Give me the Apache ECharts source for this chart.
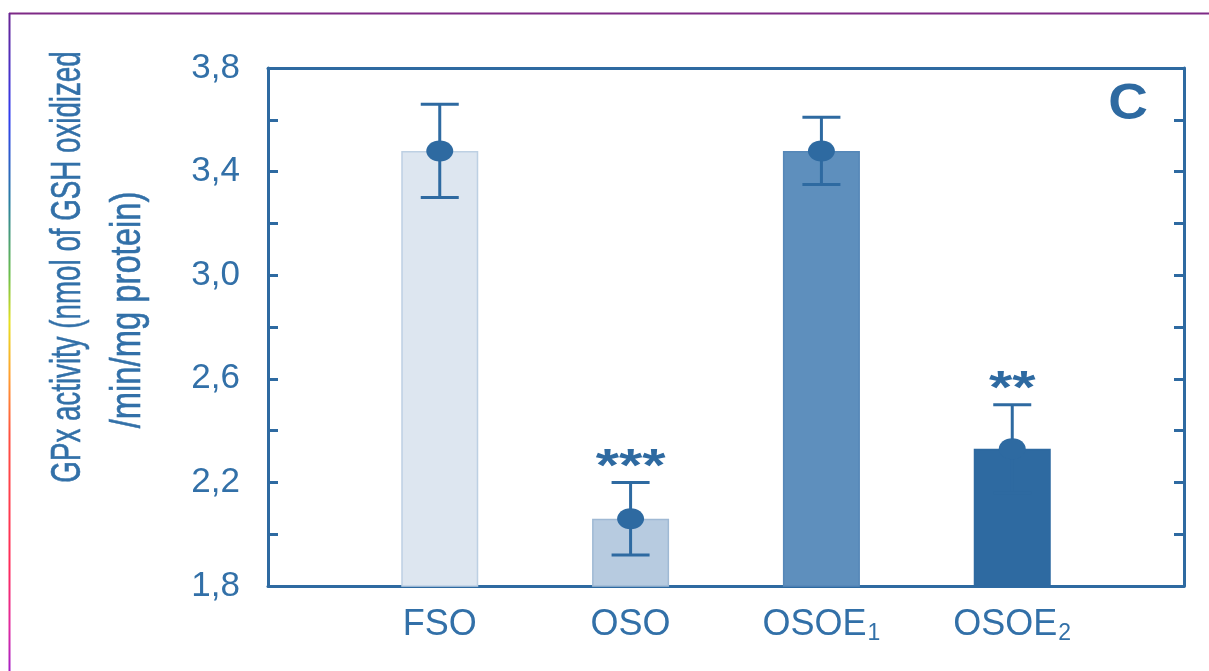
<!DOCTYPE html>
<html>
<head>
<meta charset="utf-8">
<title>GPx activity</title>
<script src="https://cdn.jsdelivr.net/npm/echarts@6/dist/echarts.min.js"></script>
<style>
  html, body { margin: 0; padding: 0; background: #ffffff; }
  #chart { width: 1209px; height: 671px; }
</style>
</head>
<body>
<div id="chart"></div>
<script>
// Group names (with subscript index where a group has one)
const categoryNames = ['FSO', 'OSO', 'OSOE', 'OSOE'];
const categorySubs = ['', '', '1', '2'];
// Positions of the groups along the x axis
const categoryPos = [1, 2, 3, 4];
// GPx activity means and error half-widths
const means = [3.48, 2.06, 3.48, 2.33];
const errors = [0.18, 0.14, 0.13, 0.17];
// Significance marks above the error bars
const significance = ['', '***', '', '**'];
// Y-axis range and tick step
const yMin = 1.8, yMax = 3.8, yStep = 0.4;

const BLUE = '#2e6aa1';
const TEXT = '#3270a8';
const barFills = ['#dde6f0', '#b7cbe0', '#5e8fbd', '#2e6aa1'];
const barBorders = ['#bdd0e3', '#9fb9d4', '#5587b8', '#2e6aa1'];

const chart = echarts.init(document.getElementById('chart'), null, { renderer: 'canvas' });

const xRange = { min: 0.1, max: 4.9 };

const option = {
  backgroundColor: '#ffffff',
  animation: false,
  grid: { left: 268, right: 25, top: 68, bottom: 85, containLabel: false, outerBoundsMode: 'none' },
  xAxis: [
    {
      type: 'value', position: 'bottom', min: xRange.min, max: xRange.max,
      axisLine: { show: true, lineStyle: { color: BLUE, width: 3 } },
      axisTick: { show: false },
      splitLine: { show: false },
      axisLabel: {
        show: true,
        customValues: categoryPos,
        margin: 18,
        formatter: function (v) {
          const i = categoryPos.indexOf(Math.round(v));
          if (i < 0) return '';
          return categorySubs[i]
            ? '{base|' + categoryNames[i] + '}{sub|' + categorySubs[i] + '}'
            : '{base|' + categoryNames[i] + '}';
        },
        rich: {
          base: { fontSize: 36, lineHeight: 42, color: TEXT, fontFamily: 'Liberation Sans', verticalAlign: 'middle' },
          sub: { fontSize: 23, lineHeight: 23, color: TEXT, fontFamily: 'Liberation Sans', padding: [18, 0, 0, 1], verticalAlign: 'middle' }
        }
      }
    },
    {
      type: 'value', position: 'top', min: xRange.min, max: xRange.max,
      axisLine: { show: true, lineStyle: { color: BLUE, width: 3 } },
      axisTick: { show: false }, axisLabel: { show: false }, splitLine: { show: false }
    }
  ],
  yAxis: [
    {
      type: 'value', position: 'left', min: yMin, max: yMax, interval: yStep,
      axisLine: { show: true, lineStyle: { color: BLUE, width: 3 } },
      axisTick: { show: true, inside: true, length: 10, lineStyle: { color: BLUE, width: 3 } },
      minorTick: { show: true, splitNumber: 2, length: 10, lineStyle: { color: BLUE, width: 3 } },
      splitLine: { show: false },
      axisLabel: {
        margin: 28, fontSize: 35, color: TEXT, fontFamily: 'Liberation Sans',
        formatter: function (v) { return v.toFixed(1).replace('.', ','); }
      }
    },
    {
      type: 'value', position: 'right', min: yMin, max: yMax, interval: yStep,
      axisLine: { show: true, lineStyle: { color: BLUE, width: 3 } },
      axisTick: { show: true, inside: true, length: 10, lineStyle: { color: BLUE, width: 3 } },
      minorTick: { show: true, splitNumber: 2, length: 10, lineStyle: { color: BLUE, width: 3 } },
      splitLine: { show: false },
      axisLabel: { show: false }
    }
  ],
  series: [
    {
      type: 'bar',
      xAxisIndex: 0, yAxisIndex: 0,
      barWidth: 77,
      z: 2,
      data: means.map(function (m, i) {
        return {
          value: [categoryPos[i], m],
          itemStyle: { color: barFills[i], borderColor: barBorders[i], borderWidth: 1.5 }
        };
      })
    },
    {
      type: 'custom',
      xAxisIndex: 0, yAxisIndex: 0,
      z: 5,
      encode: { x: 0, y: 1 },
      data: means.map(function (m, i) { return [categoryPos[i], m, errors[i]]; }),
      renderItem: function (params, api) {
        const i = params.dataIndex;
        const x = api.value(0), m = api.value(1), e = api.value(2);
        const hi = api.coord([x, m + e]);
        const lo = api.coord([x, m - e]);
        const mid = api.coord([x, m]);
        const capHalf = 19;
        const ls = { stroke: BLUE, lineWidth: 3 };
        const children = [
          { type: 'line', shape: { x1: hi[0], y1: hi[1], x2: lo[0], y2: lo[1] }, style: ls },
          { type: 'line', shape: { x1: hi[0] - capHalf, y1: hi[1], x2: hi[0] + capHalf, y2: hi[1] }, style: ls },
          { type: 'line', shape: { x1: lo[0] - capHalf, y1: lo[1], x2: lo[0] + capHalf, y2: lo[1] }, style: ls },
          { type: 'ellipse', shape: { cx: mid[0], cy: mid[1], rx: 13.5, ry: 10.5 }, style: { fill: BLUE } }
        ];
        if (significance[i]) {
          children.push({
            type: 'text',
            x: hi[0], y: hi[1] - 14,
            scaleX: 1.3,
            style: {
              text: significance[i], align: 'center', verticalAlign: 'middle',
              font: 'bold 46px "Liberation Sans"', fill: BLUE
            }
          });
        }
        return { type: 'group', children: children };
      }
    }
  ],
  graphic: [
    // outer frame: top rule and left gradient rule
    {
      type: 'line', z: 10,
      shape: { x1: 9, y1: 13.5, x2: 1209, y2: 13.5 },
      style: { stroke: '#7e2a86', lineWidth: 2 }
    },
    {
      type: 'line', z: 10,
      shape: { x1: 9.5, y1: 13, x2: 9.5, y2: 671 },
      style: {
        lineWidth: 2,
        stroke: new echarts.graphic.LinearGradient(0, 0, 0, 1, [
          { offset: 0, color: '#6b2390' },
          { offset: 0.16, color: '#2f3cf0' },
          { offset: 0.29, color: '#2a7fa0' },
          { offset: 0.40, color: '#6cbf4a' },
          { offset: 0.47, color: '#e6e020' },
          { offset: 0.55, color: '#ffa030' },
          { offset: 0.64, color: '#ff5040' },
          { offset: 0.84, color: '#ff2a5a' },
          { offset: 0.93, color: '#e02aa0' },
          { offset: 1, color: '#a020c8' }
        ])
      }
    },
    // panel letter
    {
      type: 'text', x: 1128, y: 105, scaleX: 1.1,
      style: { text: 'C', align: 'center', verticalAlign: 'middle', font: 'bold 50px "Liberation Sans"', fill: BLUE }
    },
    // y-axis title, two lines
    {
      type: 'text', x: 68, y: 267, rotation: Math.PI / 2, scaleX: 0.66,
      style: { text: 'GPx activity (nmol of GSH oxidized', align: 'center', verticalAlign: 'middle', font: '42px "Liberation Sans"', fill: TEXT, stroke: TEXT, lineWidth: 0.6 }
    },
    {
      type: 'text', x: 128, y: 310, rotation: Math.PI / 2, scaleX: 0.78,
      style: { text: '/min/mg protein)', align: 'center', verticalAlign: 'middle', font: '42px "Liberation Sans"', fill: TEXT, stroke: TEXT, lineWidth: 0.6 }
    }
  ]
};

chart.setOption(option);
</script>
</body>
</html>
